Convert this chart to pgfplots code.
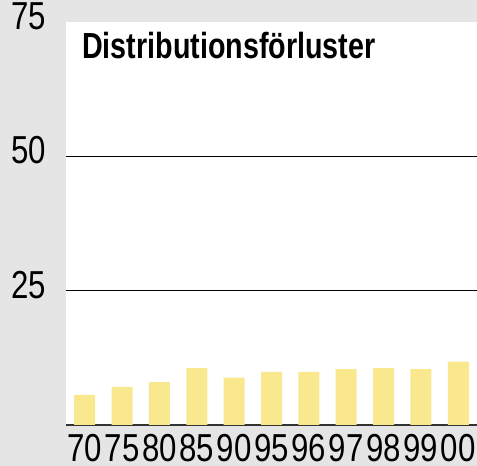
\documentclass[border=0pt]{standalone}
\usepackage{fontspec}
\usepackage{pgfplots}
\pgfplotsset{compat=1.18}
\setmainfont{Liberation Sans}
\newfontfamily\tickfont[FakeStretch=0.8]{Liberation Sans}
\newfontfamily\titlefont[FakeStretch=0.79]{Liberation Sans}
\definecolor{bgray}{HTML}{E5E5E5}
\definecolor{baryellow}{HTML}{FAE88E}
\definecolor{axisgray}{HTML}{333333}

\begin{document}
\begin{tikzpicture}[x=1pt,y=1pt]
\useasboundingbox (0,0) rectangle (477,466);
\fill[bgray] (0,0) rectangle (477,466);
\begin{axis}[
    at={(66pt,41pt)}, anchor=south west,
    scale only axis, width=411pt, height=403pt,
    xmin=-0.5, xmax=10.5, ymin=0, ymax=75,
    axis background/.style={fill=white},
    axis x line*=bottom, axis y line*=left,
    x axis line style={axisgray, line width=2pt},
    y axis line style={draw=none},
    major tick length=0pt,
    xtick={0,...,10},
    xticklabels={70,75,80,85,90,95,96,97,98,99,00},
    ytick={25,50}, yticklabels={25,50},
    extra y ticks={75}, extra y tick labels={75},
    extra y tick style={grid=none},
    ymajorgrids, grid style={black, line width=1pt},
    tick label style={font=\tickfont\fontsize{39}{39}\selectfont, inner sep=0pt},
    xticklabel style={anchor=north, yshift=-9pt},
    yticklabel style={anchor=east, xshift=-20pt, yshift=6pt},
    clip=false,
]
\addplot[ybar, bar width=21pt, fill=baryellow, draw=none] coordinates {
    (0,5.6)(1,7.1)(2,8.0)(3,10.6)(4,8.8)(5,9.9)(6,9.9)(7,10.4)(8,10.6)(9,10.4)(10,11.8)
};
\end{axis}
\node[anchor=base west, inner sep=0pt, font=\titlefont\bfseries\fontsize{36.3}{36.3}\selectfont] at (82,407) {Distributionsförluster};
\end{tikzpicture}
\end{document}
